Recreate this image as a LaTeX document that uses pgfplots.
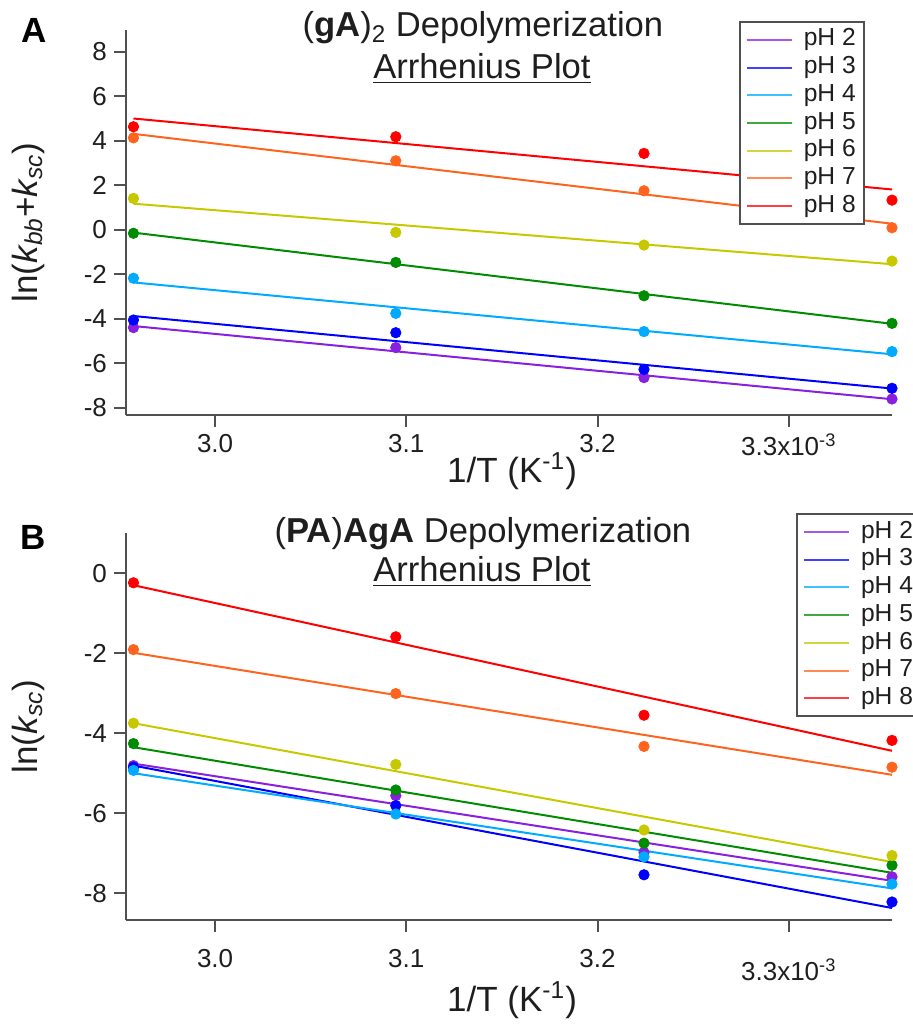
\documentclass[border=0pt]{standalone}
\usepackage{fontspec}
\setmainfont{Liberation Sans}
\usepackage{pgfplots}
\pgfplotsset{compat=1.18}
\definecolor{cA}{RGB}{136,32,224}
\definecolor{cB}{RGB}{0,0,255}
\definecolor{cC}{RGB}{0,170,255}
\definecolor{cD}{RGB}{0,140,0}
\definecolor{cE}{RGB}{200,200,0}
\definecolor{cF}{RGB}{255,100,30}
\definecolor{cG}{RGB}{255,0,0}
\definecolor{txt}{RGB}{30,30,30}
\definecolor{axg}{RGB}{80,80,80}
\pgfplotsset{
  panel/.style={
    scale only axis, width=383pt,
    axis lines*=left,
    axis line style={draw=axg, line width=1pt},
    tick style={draw=axg, line width=1pt},
    tick align=outside, major tick length=6pt,
    xmin=2.9534, xmax=3.354,
    xtick={3.0,3.1,3.2,3.3},
    ticklabel style={font=\fontsize{13}{15}\selectfont, text=txt},
    label style={font=\fontsize{17.5}{20}\selectfont, text=txt},
    xlabel={1/T (K\textsuperscript{-1})},
    clip=false,
    legend cell align=left,
    legend image code/.code={\draw[line width=1pt, opacity=0.75] (0pt,0pt) -- (22.5pt,0pt);},
    legend style={draw=axg, line width=1pt, font=\fontsize{12.3}{14}\selectfont, text=txt,
      nodes={inner sep=1pt, text height=9pt, text depth=2.85pt}, inner xsep=3pt, inner ysep=2pt,
      column sep=4.5pt},
  },
  pts/.style={only marks, mark=*, mark size=2.6pt, forget plot},
  fit/.style={line width=1pt, no marks},
}
\begin{document}
\begin{tikzpicture}
\useasboundingbox (0,0) rectangle (456pt,512pt);
% ---------------- Panel A ----------------
\begin{axis}[panel, at={(63pt,304.5pt)}, anchor=south west, height=192.5pt,
  ymin=-8.33, ymax=8.98,
  ytick={-8,-6,-4,-2,0,2,4,6,8}, yticklabels={-8,-6,-4,-2,0,2,4,6,8},
  xticklabels={3.0,3.1,3.2,{3.3x10\textsuperscript{-3}}},
  ylabel={ln(\textit{k\textsubscript{bb}}+\textit{k\textsubscript{sc}})},
  ylabel style={at={(axis description cs:-0.128,0.5)}, anchor=center},
  xlabel style={at={(axis description cs:0.504,-0.146)}, anchor=center},
  legend style={at={(axis description cs:0.800,1.0234)}, anchor=north west},
]
\addplot[pts, cA] coordinates {(2.9573,-4.40) (3.0945,-5.30) (3.2243,-6.65) (3.3540,-7.61)};
\addplot[fit, cA] coordinates {(2.9573,-4.33) (3.3540,-7.62)}; \addlegendentry{pH 2}
\addplot[pts, cB] coordinates {(2.9573,-4.06) (3.0945,-4.63) (3.2243,-6.28) (3.3540,-7.13)};
\addplot[fit, cB] coordinates {(2.9573,-3.88) (3.3540,-7.14)}; \addlegendentry{pH 3}
\addplot[pts, cC] coordinates {(2.9573,-2.18) (3.0945,-3.76) (3.2243,-4.58) (3.3540,-5.48)};
\addplot[fit, cC] coordinates {(2.9573,-2.37) (3.3540,-5.60)}; \addlegendentry{pH 4}
\addplot[pts, cD] coordinates {(2.9573,-0.16) (3.0945,-1.47) (3.2243,-2.97) (3.3540,-4.21)};
\addplot[fit, cD] coordinates {(2.9573,-0.13) (3.3540,-4.23)}; \addlegendentry{pH 5}
\addplot[pts, cE] coordinates {(2.9573,1.41) (3.0945,-0.12) (3.2243,-0.69) (3.3540,-1.41)};
\addplot[fit, cE] coordinates {(2.9573,1.17) (3.3540,-1.55)}; \addlegendentry{pH 6}
\addplot[pts, cF] coordinates {(2.9573,4.13) (3.0945,3.10) (3.2243,1.75) (3.3540,0.09)};
\addplot[fit, cF] coordinates {(2.9573,4.31) (3.3540,0.27)}; \addlegendentry{pH 7}
\addplot[pts, cG] coordinates {(2.9573,4.63) (3.0945,4.18) (3.2243,3.43) (3.3540,1.33)};
\addplot[fit, cG] coordinates {(2.9573,5.00) (3.3540,1.81)}; \addlegendentry{pH 8}
\end{axis}
% ---------------- Panel B ----------------
\begin{axis}[panel, at={(63pt,52pt)}, anchor=south west, height=193.4pt,
  ymin=-8.67, ymax=1.0,
  ytick={-8,-6,-4,-2,0}, yticklabels={-8,-6,-4,-2,0},
  xticklabels={3.0,3.1,3.2,{\raisebox{-5pt}[\height][\depth]{3.3x10\textsuperscript{-3}}}},
  xticklabel style={yshift=-5pt},
  ylabel={ln(\textit{k\textsubscript{sc}})},
  ylabel style={at={(axis description cs:-0.128,0.5)}, anchor=center},
  xlabel style={at={(axis description cs:0.504,-0.207)}, anchor=center},
  legend style={at={(axis description cs:0.8747,1.0517)}, anchor=north west},
]
\addplot[pts, cA] coordinates {(2.9573,-4.81) (3.0945,-5.56) (3.2243,-6.98) (3.3540,-7.59)};
\addplot[fit, cA] coordinates {(2.9573,-4.76) (3.3540,-7.69)}; \addlegendentry{pH 2}
\addplot[pts, cB] coordinates {(2.9573,-4.85) (3.0945,-5.81) (3.2243,-7.54) (3.3540,-8.22)};
\addplot[fit, cB] coordinates {(2.9573,-4.81) (3.3540,-8.37)}; \addlegendentry{pH 3}
\addplot[pts, cC] coordinates {(2.9573,-4.93) (3.0945,-6.02) (3.2243,-7.09) (3.3540,-7.77)};
\addplot[fit, cC] coordinates {(2.9573,-5.00) (3.3540,-7.88)}; \addlegendentry{pH 4}
\addplot[pts, cD] coordinates {(2.9573,-4.26) (3.0945,-5.42) (3.2243,-6.75) (3.3540,-7.30)};
\addplot[fit, cD] coordinates {(2.9573,-4.35) (3.3540,-7.49)}; \addlegendentry{pH 5}
\addplot[pts, cE] coordinates {(2.9573,-3.75) (3.0945,-4.78) (3.2243,-6.42) (3.3540,-7.06)};
\addplot[fit, cE] coordinates {(2.9573,-3.75) (3.3540,-7.22)}; \addlegendentry{pH 6}
\addplot[pts, cF] coordinates {(2.9573,-1.91) (3.0945,-3.01) (3.2243,-4.33) (3.3540,-4.85)};
\addplot[fit, cF] coordinates {(2.9573,-1.99) (3.3540,-5.04)}; \addlegendentry{pH 7}
\addplot[pts, cG] coordinates {(2.9573,-0.24) (3.0945,-1.59) (3.2243,-3.55) (3.3540,-4.18)};
\addplot[fit, cG] coordinates {(2.9573,-0.30) (3.3540,-4.44)}; \addlegendentry{pH 8}
\end{axis}
% ---------------- Titles and panel letters ----------------
\node[anchor=center, text=black, font=\fontsize{17.5}{20}\selectfont\bfseries] at (17pt,497pt) {A};
\node[anchor=center, text=black, font=\fontsize{17.5}{20}\selectfont\bfseries] at (16.5pt,243.5pt) {B};
\node[anchor=base, text=txt, font=\fontsize{17.3}{19}\selectfont] at (241.5pt,493.5pt) {(\textbf{gA})\textsubscript{2} Depolymerization};
\node[anchor=base, text=txt, font=\fontsize{17.3}{19}\selectfont] at (241pt,472.5pt) {\underline{Arrhenius Plot}};
\node[anchor=base, text=txt, font=\fontsize{17.3}{19}\selectfont] at (241.5pt,240.5pt) {(\textbf{PA})\textbf{AgA} Depolymerization};
\node[anchor=base, text=txt, font=\fontsize{17.3}{19}\selectfont] at (241pt,221pt) {\underline{Arrhenius Plot}};
\end{tikzpicture}
\end{document}
